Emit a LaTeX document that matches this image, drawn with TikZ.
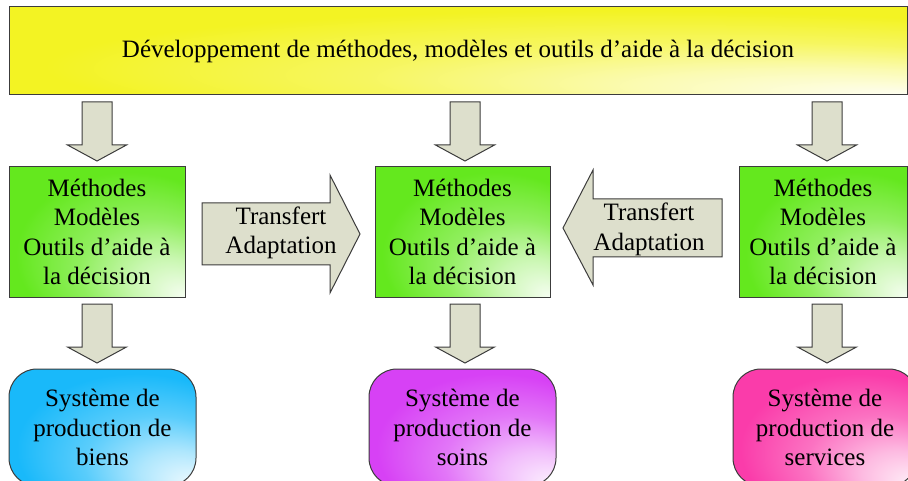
\documentclass[tikz,border=0pt]{standalone}
\usepackage{fontspec}
\setmainfont{Liberation Serif}
\definecolor{ylw}{RGB}{243,243,35}
\definecolor{grn}{RGB}{100,232,30}
\definecolor{blu}{RGB}{25,185,250}
\definecolor{mag}{RGB}{215,65,245}
\definecolor{pnk}{RGB}{250,60,170}
\definecolor{arrfill}{RGB}{221,223,204}
\definecolor{edge}{RGB}{60,60,60}
\newcommand\mkcornershade[2]{%
  \pgfdeclareradialshading{#1}{\pgfpoint{25bp}{-25bp}}{%
    color(0bp)=(#2!6!white); color(10bp)=(#2!35!white);
    color(20bp)=(#2!72!white); color(32bp)=(#2); color(50bp)=(#2)}}
\mkcornershade{shylw}{ylw}
\mkcornershade{shgrn}{grn}
\mkcornershade{shblu}{blu}
\mkcornershade{shmag}{mag}
\mkcornershade{shpnk}{pnk}
\tikzset{
  txt/.style={font=\fontsize{25}{29.5}\selectfont, align=center, text=black},
  box/.style={txt, draw=edge, line width=1pt, inner sep=0pt},
  topbox/.style={box, shading=shylw},
  methbox/.style={box, shading=shgrn, minimum height=130pt},
  prodbox/.style={box, rounded corners=28pt, minimum height=117pt, minimum width=187pt},
  blockarrow/.style={draw=edge, fill=arrfill, line width=1pt, line join=miter},
}
\begin{document}
\begin{tikzpicture}[x=1pt, y=-1pt]
\useasboundingbox (0,0) rectangle (908,481);
\clip (0,0) rectangle (908,481);
% top box
\node[topbox, minimum width=898pt, minimum height=88pt] (top) at (458,51)
  {Développement de méthodes, modèles et outils d’aide à la décision};
% method boxes
\node[methbox, minimum width=176pt] (m1) at (97,232)
  {Méthodes\\Modèles\\Outils d’aide à\\la décision};
\node[methbox, minimum width=175pt] (m2) at (462.5,232)
  {Méthodes\\Modèles\\Outils d’aide à\\la décision};
\node[methbox, minimum width=168pt] (m3) at (823,232)
  {Méthodes\\Modèles\\Outils d’aide à\\la décision};
% production boxes
\node[prodbox, shading=shblu] (p1) at (102.5,427.5)
  {Système de\\production de\\biens};
\node[prodbox, shading=shmag] (p2) at (462.5,427.5)
  {Système de\\production de\\soins};
\node[prodbox, shading=shpnk, minimum width=184pt] (p3) at (825,427.5)
  {Système de\\production de\\services};
% down block arrows
\newcommand\blockdown[2]{%
  \draw[blockarrow] (#1-15,#2) -- (#1+15,#2) -- (#1+15,#2+43) -- (#1+29.5,#2+43)
    -- (#1,#2+59) -- (#1-29.5,#2+43) -- (#1-15,#2+43) -- cycle;}
\blockdown{97}{102}
\blockdown{465}{102}
\blockdown{827}{102}
\blockdown{97}{304}
\blockdown{465}{304}
\blockdown{827}{304}
% transfer arrows
\draw[blockarrow] (202,203) -- (330,203) -- (330,175) -- (360,234)
  -- (330,293) -- (330,265) -- (202,265) -- cycle;
\node[txt] (t1) at (281,233) {Transfert\\Adaptation};
\draw[blockarrow] (722,199) -- (593,199) -- (593,170) -- (563,228)
  -- (593,285) -- (593,257) -- (722,257) -- cycle;
\node[txt] (t2) at (649,229.5) {Transfert\\Adaptation};
\end{tikzpicture}
\end{document}
